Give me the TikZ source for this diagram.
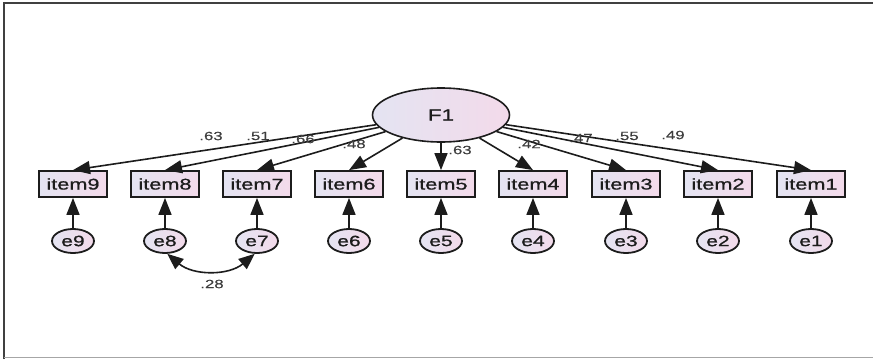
\documentclass[tikz,border=0pt]{standalone}
\usepackage{fontspec}
\setmainfont{Liberation Sans}
\newfontfamily\semfont[FakeStretch=1.4,FakeBold=0.9]{Liberation Sans}
\newfontfamily\coeffont[FakeStretch=1.4,FakeBold=0.3]{Liberation Sans}
\usetikzlibrary{arrows.meta,shapes.geometric}
\definecolor{lav}{HTML}{E4E4F2}
\definecolor{pnk}{HTML}{F3DAEA}
\definecolor{ink}{HTML}{1C1C1C}
\begin{document}
\begin{tikzpicture}[x=1pt,y=-1pt,
  tip/.style={-{Triangle[length=17pt,width=13pt]}},
  item/.style={draw=ink,line width=1.8pt,minimum width=68pt,minimum height=26pt,
    inner sep=0pt,left color=lav,right color=pnk,text=ink,
    font=\semfont\fontsize{15.5}{15.5}\selectfont},
  err/.style={ellipse,draw=ink,line width=1.8pt,minimum width=42pt,minimum height=24pt,
    inner sep=0pt,left color=lav,right color=pnk,text=ink,
    font=\semfont\fontsize{15}{15}\selectfont},
  latent/.style={ellipse,draw=ink,line width=1.6pt,minimum width=137pt,minimum height=54pt,
    inner sep=0pt,left color=lav,right color=pnk,text=ink,
    font=\semfont\fontsize{16}{16}\selectfont},
  link/.style={draw=ink,line width=1.6pt,tip},
  coef/.style={inner sep=0pt,text=ink!85,font=\coeffont\fontsize{12}{12}\selectfont}]

\useasboundingbox (0,0) rectangle (873,359);

% frame
\draw[line width=2pt,black!75] (4,359) -- (4,3) -- (873,3);
\draw[line width=1.5pt,black!35] (4,357.5) -- (873,357.5);

% latent factor
\node[latent] (F1) at (441,115) {F1};

% observed items and their error terms
\foreach \i/\x in {9/73,8/165,7/257,6/349,5/441,4/533,3/626,2/718,1/811}{
  \node[item] (item\i) at (\x,184) {item\i};
  \node[err] (e\i) at (\x,241) {e\i};
  \draw[link] (F1) -- (item\i.north);
  \draw[link] (e\i) -- (item\i);
}

% standardized loadings
\node[coef] (l9) at (211,136) {.63};
\node[coef] (l8) at (258,136) {.51};
\node[coef] (l7) at (303,139) {.66};
\node[coef] (l6) at (354,144) {.48};
\node[coef] (l5) at (460,150) {.63};
\node[coef] (l4) at (529,144) {.42};
\node[coef] (l3) at (581,138) {.47};
\node[coef] (l2) at (627,136) {.55};
\node[coef] (l1) at (673,135) {.49};

% error covariance
\draw[draw=ink,line width=1.6pt,{Triangle[length=16pt,width=13pt]}-{Triangle[length=16pt,width=13pt]}]
  (e8.-80) to[out=-40,in=-140] (e7.-100);
\node[coef] (c87) at (212,284) {.28};
\end{tikzpicture}
\end{document}
